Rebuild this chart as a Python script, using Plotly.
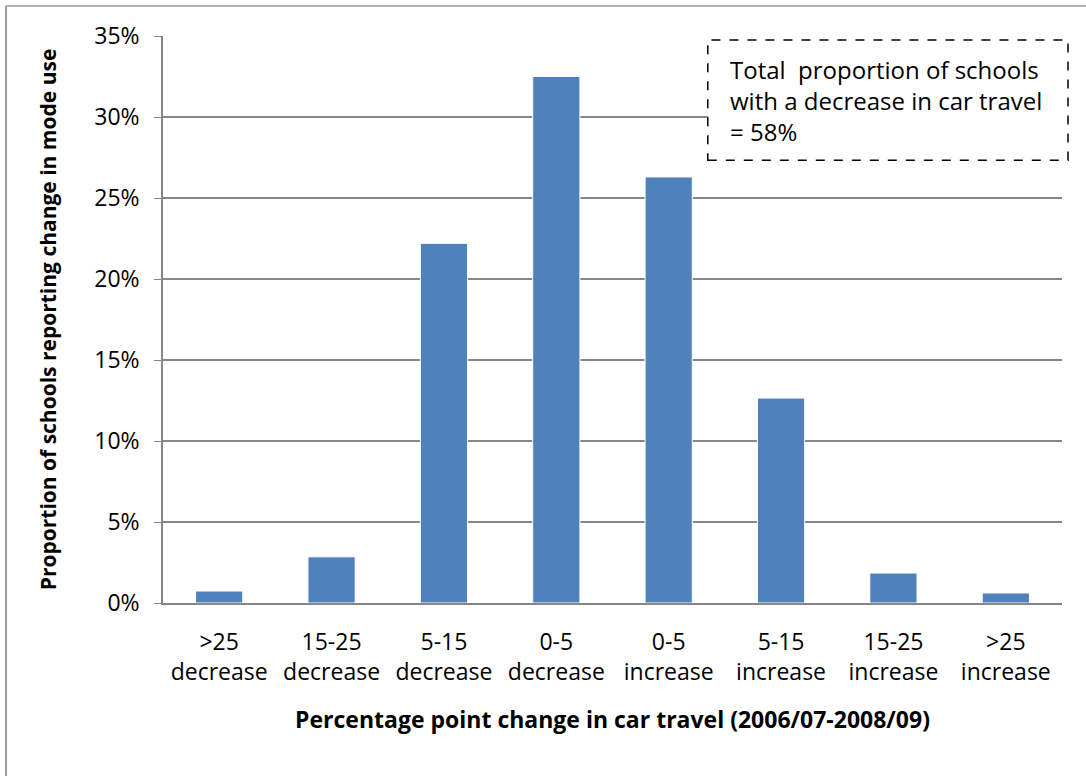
import plotly.graph_objects as go

categories = [">25<br>decrease", "15-25<br>decrease", "5-15<br>decrease", "0-5<br>decrease",
              "0-5<br>increase", "5-15<br>increase", "15-25<br>increase", ">25<br>increase"]
values = [0.0074, 0.0285, 0.222, 0.325, 0.263, 0.1265, 0.0185, 0.0062]
y_ticks = [0, 0.05, 0.10, 0.15, 0.20, 0.25, 0.30, 0.35]
y_tick_labels = ["0%", "5%", "10%", "15%", "20%", "25%", "30%", "35%"]

font_family = "Open Sans, Liberation Sans, sans-serif"

fig = go.Figure()
fig.add_trace(go.Bar(
    x=categories, y=values,
    marker=dict(color="#4f81bd", line=dict(color="#ffffff", width=1)),
    width=0.42,
))

fig.update_layout(
    width=1086, height=776,
    margin=dict(l=163, r=24, t=36, b=173),
    paper_bgcolor="white", plot_bgcolor="white",
    showlegend=False,
    font=dict(family=font_family, size=22, color="#000000"),
    shapes=[
        dict(type="line", xref="paper", yref="paper", x0=-0.1746, x1=1.03, y0=1.0529, y1=1.0529,
             line=dict(color="#9a9a9a", width=1.5)),
        dict(type="line", xref="paper", yref="paper", x0=-0.1746, x1=-0.1746, y0=1.0529, y1=-0.31,
             line=dict(color="#9a9a9a", width=2)),
        dict(type="rect", xref="paper", yref="paper", x0=0.606, x1=1.0067, y0=0.781, y1=0.993,
             line=dict(color="#000000", width=1.5, dash="dash"), fillcolor="white"),
    ],
    annotations=[
        dict(xref="paper", yref="paper", x=0.6285, y=0.974, xanchor="left", yanchor="top",
             align="left", showarrow=False,
             text="Total  proportion of schools<br>with a decrease in car travel<br>= 58%",
             font=dict(family=font_family, size=24, color="#000000")),
    ],
)

fig.update_xaxes(
    showline=True, linecolor="#868686", linewidth=1.5,
    ticks="", tickfont=dict(size=23), ticklabelstandoff=18,
    title=dict(text="<b>Percentage point change in car travel (2006/07-2008/09)</b>",
               font=dict(size=23), standoff=26),
)
fig.update_yaxes(
    range=[0, 0.35], tickvals=y_ticks, ticktext=y_tick_labels,
    showgrid=True, gridcolor="#868686", gridwidth=1.5,
    showline=True, linecolor="#868686", linewidth=1.5,
    ticks="outside", ticklen=7, tickcolor="#868686", tickfont=dict(size=23),
    ticklabelstandoff=10,
    zeroline=False,
    title=dict(text="<b>Proportion of schools reporting change in mode use</b>",
               font=dict(size=21), standoff=32),
)

fig.write_html("out.html")
